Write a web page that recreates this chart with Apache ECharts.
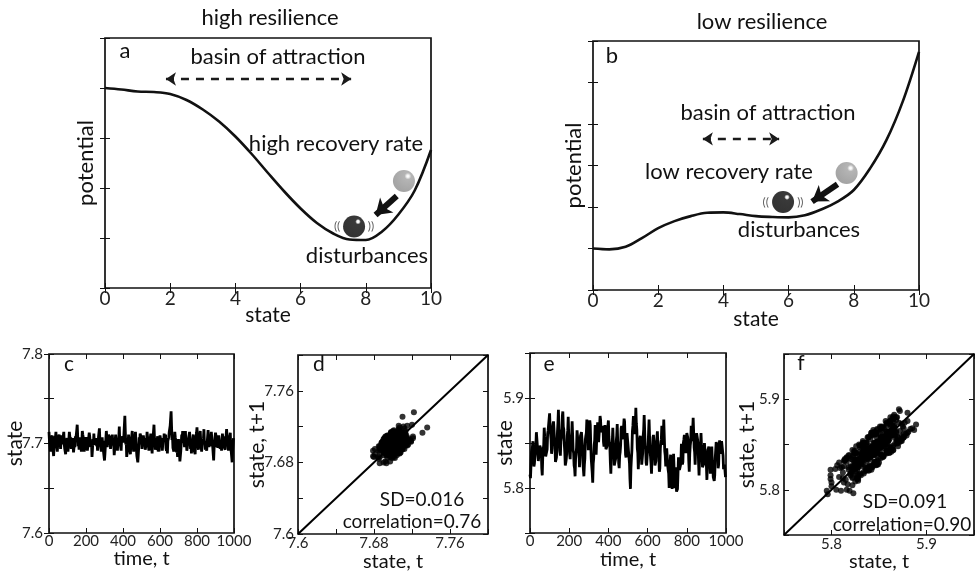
<!DOCTYPE html>
<html>
<head>
<meta charset="utf-8">
<script src="https://cdn.jsdelivr.net/npm/echarts@6/dist/echarts.min.js"></script>
<style>
  html, body { margin: 0; padding: 0; background: #fff; }
  #chart { width: 977px; height: 576px; }
</style>
</head>
<body>
<div id="chart"></div>
<script>
// ---- potential landscapes (state 0..10) ----
const stateSamples = [0, 0.5, 1, 1.5, 2, 2.5, 3, 3.5, 4, 4.5, 5, 5.5, 6, 6.5, 7, 7.5, 8, 8.5, 9, 9.5, 10];
const potentialHigh = [4.00, 3.97, 3.93, 3.92, 3.88, 3.76, 3.57, 3.33, 3.03, 2.68, 2.30, 1.93, 1.59, 1.30, 1.09, 0.97, 0.96, 1.13, 1.47, 1.95, 2.76];
const potentialLow = [1.00, 0.98, 1.04, 1.25, 1.49, 1.66, 1.78, 1.86, 1.87, 1.83, 1.78, 1.76, 1.75, 1.80, 1.94, 2.13, 2.41, 2.93, 3.61, 4.54, 5.74];

// ---- simulated trajectories, one value every 2.5 time steps ----
const timeStep = 2.5;
const stateHigh = [
  7.713,7.703,7.702,7.691,7.704,7.705,7.703,7.709,7.696,7.697,7.686,7.696,7.708,7.702,7.702,7.713,7.700,7.702,7.691,7.700,
  7.706,7.704,7.710,7.699,7.704,7.694,7.692,7.709,7.699,7.701,7.699,7.709,7.713,7.699,7.694,7.695,7.688,7.702,7.701,7.706,
  7.703,7.691,7.697,7.698,7.713,7.713,7.703,7.707,7.694,7.701,7.698,7.706,7.707,7.690,7.688,7.700,7.696,7.708,7.705,7.707,
  7.715,7.721,7.709,7.697,7.703,7.693,7.691,7.707,7.702,7.703,7.691,7.702,7.714,7.710,7.707,7.707,7.691,7.693,7.690,7.702,
  7.707,7.705,7.705,7.692,7.698,7.697,7.698,7.712,7.708,7.708,7.696,7.697,7.699,7.685,7.693,7.705,7.698,7.711,7.702,7.704,
  7.701,7.699,7.706,7.697,7.701,7.692,7.691,7.707,7.706,7.717,7.704,7.704,7.706,7.691,7.696,7.707,7.699,7.703,7.690,7.692,
  7.681,7.689,7.698,7.698,7.714,7.707,7.696,7.702,7.699,7.710,7.706,7.706,7.709,7.694,7.692,7.703,7.698,7.710,7.699,7.702,
  7.699,7.687,7.694,7.695,7.710,7.710,7.700,7.704,7.692,7.702,7.698,7.707,7.719,7.703,7.700,7.701,7.692,7.705,7.704,7.708,
  7.704,7.701,7.710,7.710,7.731,7.713,7.699,7.702,7.685,7.684,7.686,7.698,7.710,7.704,7.703,7.704,7.688,7.699,7.698,7.709,
  7.714,7.703,7.701,7.691,7.697,7.697,7.698,7.713,7.701,7.701,7.686,7.686,7.679,7.687,7.696,7.707,7.699,7.711,7.709,7.710,
  7.706,7.694,7.694,7.693,7.709,7.709,7.701,7.706,7.693,7.694,7.691,7.701,7.713,7.708,7.706,7.707,7.692,7.696,7.693,7.706,
  7.711,7.701,7.699,7.689,7.703,7.706,7.706,7.721,7.707,7.706,7.693,7.693,7.703,7.698,7.705,7.708,7.691,7.694,7.691,7.703,
  7.709,7.706,7.706,7.696,7.701,7.692,7.690,7.706,7.702,7.711,7.707,7.708,7.710,7.695,7.692,7.695,7.689,7.703,7.702,7.707,
  7.713,7.711,7.720,7.722,7.736,7.719,7.704,7.708,7.695,7.696,7.691,7.702,7.713,7.707,7.704,7.705,7.690,7.694,7.685,7.698,
  7.705,7.693,7.690,7.680,7.686,7.692,7.694,7.710,7.706,7.714,7.701,7.702,7.704,7.696,7.704,7.714,7.700,7.703,7.692,7.695,
  7.701,7.700,7.707,7.706,7.713,7.703,7.694,7.700,7.689,7.699,7.696,7.706,7.710,7.695,7.692,7.693,7.688,7.702,7.701,7.712,
  7.718,7.705,7.703,7.693,7.700,7.699,7.700,7.714,7.703,7.703,7.691,7.692,7.704,7.699,7.706,7.716,7.700,7.703,7.693,7.696,
  7.694,7.692,7.701,7.700,7.715,7.706,7.696,7.702,7.697,7.707,7.704,7.713,7.715,7.699,7.696,7.697,7.681,7.695,7.695,7.707,
  7.712,7.709,7.707,7.696,7.702,7.695,7.694,7.709,7.705,7.707,7.694,7.695,7.698,7.692,7.700,7.711,7.704,7.708,7.697,7.699,
  7.696,7.693,7.702,7.701,7.716,7.707,7.697,7.703,7.692,7.701,7.699,7.709,7.712,7.695,7.691,7.693,7.679,7.693,7.694,7.706
];
const stateLow = [
  5.815,5.811,5.825,5.840,5.842,5.846,5.852,5.839,5.824,5.827,5.829,5.842,5.847,5.862,5.860,5.847,5.845,5.830,5.831,5.830,
  5.847,5.849,5.848,5.842,5.822,5.814,5.834,5.843,5.848,5.867,5.857,5.852,5.835,5.836,5.836,5.843,5.860,5.864,5.865,5.866,
  5.883,5.867,5.860,5.854,5.838,5.844,5.866,5.871,5.874,5.873,5.855,5.846,5.829,5.830,5.834,5.843,5.862,5.872,5.887,5.866,
  5.861,5.841,5.836,5.852,5.856,5.862,5.880,5.885,5.868,5.865,5.849,5.840,5.825,5.828,5.832,5.839,5.858,5.864,5.879,5.860,
  5.855,5.837,5.832,5.848,5.852,5.858,5.874,5.859,5.842,5.839,5.825,5.822,5.813,5.832,5.838,5.845,5.864,5.866,5.865,5.844,
  5.839,5.823,5.838,5.858,5.860,5.862,5.862,5.847,5.828,5.827,5.813,5.826,5.833,5.854,5.858,5.861,5.876,5.868,5.863,5.842,
  5.863,5.865,5.875,5.870,5.848,5.832,5.830,5.817,5.806,5.827,5.833,5.848,5.853,5.870,5.854,5.837,5.852,5.858,5.873,5.854,
  5.851,5.853,5.868,5.880,5.876,5.862,5.860,5.863,5.866,5.869,5.851,5.846,5.851,5.870,5.858,5.843,5.842,5.846,5.863,5.862,
  5.875,5.857,5.850,5.846,5.828,5.816,5.836,5.845,5.852,5.867,5.851,5.842,5.825,5.826,5.826,5.833,5.852,5.858,5.871,5.852,
  5.847,5.827,5.822,5.836,5.840,5.848,5.866,5.869,5.854,5.853,5.855,5.868,5.877,5.874,5.854,5.837,5.834,5.842,5.861,5.862,
  5.861,5.841,5.834,5.828,5.810,5.799,5.822,5.833,5.842,5.863,5.869,5.880,5.863,5.860,5.864,5.871,5.889,5.872,5.865,5.844,
  5.839,5.821,5.834,5.852,5.854,5.858,5.858,5.843,5.826,5.827,5.839,5.858,5.865,5.881,5.864,5.847,5.844,5.828,5.825,5.824,
  5.843,5.847,5.862,5.876,5.858,5.842,5.840,5.827,5.816,5.835,5.841,5.856,5.859,5.858,5.840,5.825,5.824,5.830,5.849,5.850,
  5.863,5.845,5.838,5.834,5.818,5.822,5.844,5.851,5.854,5.869,5.855,5.848,5.857,5.876,5.858,5.841,5.836,5.824,5.841,5.844,
  5.843,5.825,5.820,5.816,5.800,5.808,5.830,5.837,5.822,5.819,5.799,5.812,5.819,5.838,5.822,5.805,5.800,5.804,5.823,5.796,
  5.795,5.799,5.816,5.834,5.834,5.820,5.818,5.825,5.830,5.849,5.833,5.826,5.829,5.850,5.854,5.859,5.858,5.842,5.839,5.842,
  5.861,5.861,5.856,5.850,5.830,5.818,5.838,5.847,5.852,5.869,5.859,5.852,5.865,5.878,5.862,5.845,5.840,5.826,5.841,5.844,
  5.861,5.859,5.854,5.848,5.828,5.814,5.832,5.841,5.846,5.861,5.847,5.838,5.823,5.824,5.826,5.833,5.850,5.852,5.849,5.828,
  5.825,5.809,5.824,5.842,5.844,5.846,5.846,5.831,5.816,5.831,5.835,5.846,5.831,5.828,5.812,5.813,5.808,5.814,5.833,5.834,
  5.851,5.849,5.846,5.840,5.822,5.826,5.848,5.853,5.838,5.837,5.837,5.852,5.853,5.854,5.836,5.821,5.820,5.826,5.827,5.812
];

// ---- tick labels ----
const ticksState = ['0', '2', '4', '6', '8', '10'];
const ticksTime = ['0', '200', '400', '600', '800', '1000'];
const ticksHighY = ['7.6', '7.7', '7.8'];
const ticksHighLag = ['7.6', '7.68', '7.76'];
const ticksLow = ['5.8', '5.9'];

// ---- statistics printed in the lag plots ----
const statsHigh = ['SD=0.016', 'correlation=0.76'];
const statsLow = ['SD=0.091', 'correlation=0.90'];

const FONT = 'Lato, "Open Sans", "DejaVu Sans", sans-serif';
const INK = '#111';

const pairs = (xs, ys) => xs.map((x, i) => [x, ys[i]]);
const timed = (vals) => vals.map((v, i) => [i * timeStep, v]);
const lagged = (vals) => vals.slice(0, -1).map((v, i) => [v, vals[i + 1]]);
const pick = (list, digits) => (v) => {
  const s = String(parseFloat(v.toFixed(digits)));
  return list.includes(s) ? s : '';
};

const grids = [
  { left: 105, top: 38, width: 326, height: 250 },   // a
  { left: 593, top: 41, width: 326, height: 249 },   // b
  { left: 49, top: 354, width: 185, height: 179 },   // c
  { left: 298, top: 355, width: 190, height: 179 },  // d
  { left: 530, top: 353, width: 196, height: 180 },  // e
  { left: 784, top: 354, width: 190, height: 181 }   // f
].map(g => Object.assign({ show: true, borderColor: INK, borderWidth: 1.7, backgroundColor: 'transparent', outerBoundsMode: 'none' }, g));

const tick = { show: true, inside: true, length: 5, lineStyle: { color: INK, width: 1 } };

const xAxes = [], yAxes = [];
function frame(gridIndex, x, y) {
  const xb = { gridIndex, type: 'value', min: x.min, max: x.max, interval: x.interval,
    axisLine: { show: false }, splitLine: { show: false }, axisTick: tick };
  xAxes.push(Object.assign({}, xb, {
    position: 'bottom', name: x.name, nameLocation: 'middle', nameGap: x.nameGap, nameMoveOverlap: false,
    nameTextStyle: { fontFamily: FONT, fontSize: x.nameSize, color: INK },
    axisLabel: { show: true, margin: x.margin, fontFamily: FONT, fontSize: x.labelSize, color: '#222',
      formatter: x.formatter, showMinLabel: true, showMaxLabel: true }
  }));
  xAxes.push(Object.assign({}, xb, { position: 'top', axisLabel: { show: false } }));
  const yb = { gridIndex, type: 'value', min: y.min, max: y.max, interval: y.interval,
    axisLine: { show: false }, splitLine: { show: false }, axisTick: tick };
  yAxes.push(Object.assign({}, yb, {
    position: 'left', name: y.name, nameLocation: 'middle', nameGap: y.nameGap, nameRotate: 90, nameMoveOverlap: false,
    nameTextStyle: { fontFamily: FONT, fontSize: y.nameSize, color: INK },
    axisLabel: y.formatter ? { show: true, margin: y.margin, fontFamily: FONT, fontSize: y.labelSize, color: '#222',
      formatter: y.formatter, showMinLabel: true, showMaxLabel: true } : { show: false }
  }));
  yAxes.push(Object.assign({}, yb, { position: 'right', axisLabel: { show: false } }));
}

// a, b: potential landscapes
frame(0, { min: 0, max: 10, interval: 2, name: 'state', nameGap: 17, nameSize: 21, margin: 1, labelSize: 19, formatter: pick(ticksState, 0) },
         { min: 0, max: 5, interval: 1, name: 'potential', nameGap: 8, nameSize: 22 });
frame(1, { min: 0, max: 10, interval: 2, name: 'state', nameGap: 19, nameSize: 21, margin: 1, labelSize: 19, formatter: pick(ticksState, 0) },
         { min: 0, max: 6, interval: 1, name: 'potential', nameGap: 8, nameSize: 22 });
// c, d: high resilience trajectory and lag plot
frame(2, { min: 0, max: 1000, interval: 200, name: 'time, t', nameGap: 16, nameSize: 20, margin: 1, labelSize: 15, formatter: pick(ticksTime, 0) },
         { min: 7.6, max: 7.8, interval: 0.05, name: 'state', nameGap: 23, nameSize: 21, margin: 6, labelSize: 15, formatter: pick(ticksHighY, 2) });
frame(3, { min: 7.6, max: 7.8, interval: 0.04, name: 'state, t', nameGap: 18, nameSize: 20, margin: 2, labelSize: 15, formatter: pick(ticksHighLag, 2) },
         { min: 7.6, max: 7.8, interval: 0.04, name: 'state, t+1', nameGap: 30, nameSize: 21, margin: 4, labelSize: 15, formatter: pick(ticksHighLag, 2) });
// e, f: low resilience trajectory and lag plot
frame(4, { min: 0, max: 1000, interval: 200, name: 'time, t', nameGap: 17, nameSize: 20, margin: 1, labelSize: 15, formatter: pick(ticksTime, 0) },
         { min: 5.75, max: 5.95, interval: 0.05, name: 'state', nameGap: 14, nameSize: 21, margin: 6, labelSize: 15, formatter: pick(ticksLow, 2) });
frame(5, { min: 5.75, max: 5.95, interval: 0.05, name: 'state, t', nameGap: 17, nameSize: 20, margin: 2, labelSize: 15, formatter: pick(ticksLow, 2) },
         { min: 5.75, max: 5.95, interval: 0.05, name: 'state, t+1', nameGap: 26, nameSize: 21, margin: 4, labelSize: 15, formatter: pick(ticksLow, 2) });

const ballDark = { type: 'radial', x: 0.68, y: 0.28, r: 0.7, colorStops: [
  { offset: 0, color: '#ffffff' }, { offset: 0.08, color: '#f2f2f2' }, { offset: 0.18, color: '#080808' }, { offset: 1, color: '#000' }] };
const ballGrey = { type: 'radial', x: 0.68, y: 0.28, r: 0.7, colorStops: [
  { offset: 0, color: '#ffffff' }, { offset: 0.08, color: '#f2f2f2' }, { offset: 0.22, color: '#a2a2a2' }, { offset: 1, color: '#8e8e8e' }] };

const on = (i) => ({ xAxisIndex: 2 * i, yAxisIndex: 2 * i });
const curve = (i, data) => Object.assign({ type: 'line', data, smooth: 0.35, symbol: 'none',
  lineStyle: { color: INK, width: 2.6 }, silent: true, z: 3 }, on(i));
const basin = (i, from, to) => Object.assign({ type: 'lines', coordinateSystem: 'cartesian2d',
  data: [{ coords: [from, to] }], symbol: ['arrow', 'arrow'], symbolSize: 10,
  lineStyle: { color: '#1a1a1a', width: 2.4, type: [8, 7], opacity: 1 }, silent: true, z: 4 }, on(i));
const push = (i, from, to) => Object.assign({ type: 'lines', coordinateSystem: 'cartesian2d',
  data: [{ coords: [from, to] }], symbol: ['none', 'arrow'], symbolSize: 15,
  lineStyle: { color: '#111', width: 6, opacity: 1 }, silent: true, z: 5 }, on(i));
const ball = (i, pos, fill) => Object.assign({ type: 'scatter', data: [pos], symbolSize: 22,
  itemStyle: { color: fill }, silent: true, z: 6 }, on(i));
const jitter = (i, pos, spread) => Object.assign({ type: 'scatter', symbolSize: 0,
  data: [[pos[0] - spread, pos[1]], [pos[0] + spread, pos[1]]], silent: true, z: 6,
  label: { show: true, position: 'inside', fontFamily: FONT, fontSize: 12, color: '#333',
    formatter: (p) => (p.dataIndex === 0 ? '((' : '))') } }, on(i));

const series = [
  curve(0, pairs(stateSamples, potentialHigh)),
  basin(0, [1.87, 4.18], [7.55, 4.18]),
  push(0, [8.95, 1.84], [8.3, 1.46]),
  ball(0, [9.17, 2.14], ballGrey),
  ball(0, [7.64, 1.23], ballDark),
  jitter(0, [7.64, 1.23], 0.52),

  curve(1, pairs(stateSamples, potentialLow)),
  basin(1, [3.37, 3.64], [5.71, 3.64]),
  push(1, [7.5, 2.55], [6.72, 2.13]),
  ball(1, [7.78, 2.82], ballGrey),
  ball(1, [5.83, 2.12], ballDark),
  jitter(1, [5.83, 2.12], 0.53),

  Object.assign({ type: 'line', data: timed(stateHigh), symbol: 'none', lineStyle: { color: '#000', width: 2.8 }, silent: true }, on(2)),
  Object.assign({ type: 'line', data: [[7.6, 7.6], [7.8, 7.8]], symbol: 'none', lineStyle: { color: '#000', width: 2 }, silent: true }, on(3)),
  Object.assign({ type: 'scatter', data: lagged(stateHigh), symbolSize: 6, itemStyle: { color: '#000' }, silent: true }, on(3)),

  Object.assign({ type: 'line', data: timed(stateLow), symbol: 'none', lineStyle: { color: '#000', width: 2.8 }, silent: true }, on(4)),
  Object.assign({ type: 'line', data: [[5.75, 5.75], [5.95, 5.95]], symbol: 'none', lineStyle: { color: '#000', width: 2 }, silent: true }, on(5)),
  Object.assign({ type: 'scatter', data: lagged(stateLow), symbolSize: 6, itemStyle: { color: '#000' }, silent: true }, on(5))
];

const txt = (text, x, y, size, align) => ({ type: 'text', x, y, silent: true, z: 10,
  style: { text, font: size + 'px ' + FONT, fill: INK, textAlign: align || 'center', textVerticalAlign: 'middle' } });

const graphic = [
  txt('high resilience', 270, 18, 22),
  txt('low resilience', 762, 22, 22),
  txt('a', 125, 51, 22), txt('b', 612, 56, 22),
  txt('c', 69, 364, 21), txt('d', 319, 364, 21), txt('e', 549, 364, 21), txt('f', 801, 363, 21),
  txt('basin of attraction', 278, 57, 22),
  txt('high recovery rate', 336, 144, 22),
  txt('disturbances', 367, 256, 22),
  txt('basin of attraction', 768, 113, 22),
  txt('low recovery rate', 729, 172, 22),
  txt('disturbances', 799, 230, 22),
  txt(statsHigh[0], 422, 500, 19), txt(statsHigh[1], 412, 522, 19),
  txt(statsLow[0], 905, 502, 19), txt(statsLow[1], 902, 525, 19)
];

const chart = echarts.init(document.getElementById('chart'), null, { renderer: 'canvas' });
chart.setOption({
  animation: false,
  backgroundColor: '#fff',
  textStyle: { fontFamily: FONT },
  grid: grids,
  xAxis: xAxes,
  yAxis: yAxes,
  series,
  graphic
});
</script>
</body>
</html>
